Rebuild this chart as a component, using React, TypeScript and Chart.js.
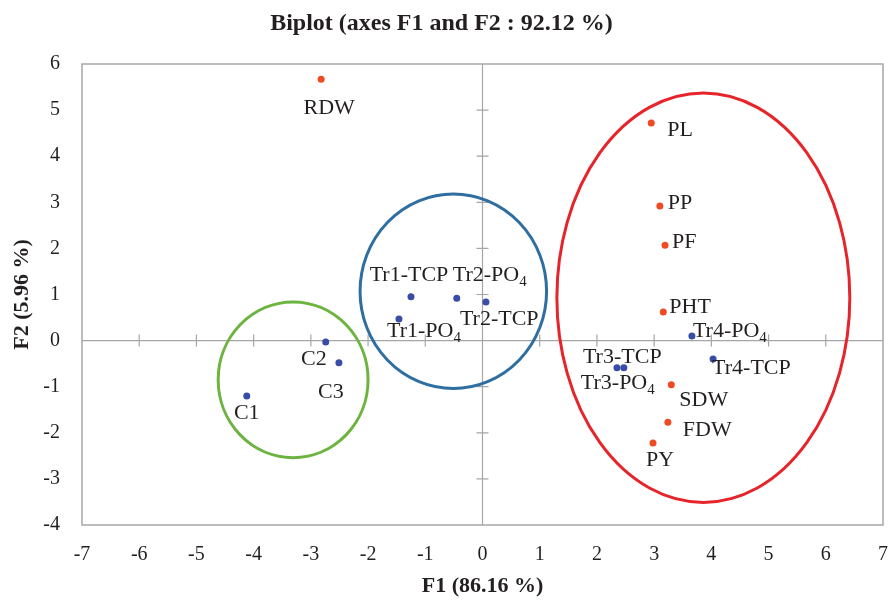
import React, { useEffect, useRef } from "react";
import { Chart, registerables } from "chart.js";

Chart.register(...registerables);

const TITLE = "Biplot (axes F1 and F2 : 92.12 %)";
const X_TITLE = "F1 (86.16 %)";
const Y_TITLE = "F2 (5.96 %)";

const X_TICKS = [-7, -6, -5, -4, -3, -2, -1, 0, 1, 2, 3, 4, 5, 6, 7];
const Y_TICKS = [-4, -3, -2, -1, 0, 1, 2, 3, 4, 5, 6];

// Observations (blue)
const OBS_LABELS = ["C1", "C2", "C3", "Tr1-TCP", "Tr1-PO4", "Tr2-PO4", "Tr2-TCP", "Tr3-TCP", "Tr3-PO4", "Tr4-PO4", "Tr4-TCP"];
const OBS_F1 = [-4.12, -2.74, -2.51, -1.25, -1.46, -0.45, 0.06, 2.35, 2.47, 3.66, 4.03];
const OBS_F2 = [-1.2, -0.03, -0.48, 0.95, 0.47, 0.92, 0.84, -0.59, -0.59, 0.1, -0.4];

// Variables (red)
const VAR_LABELS = ["RDW", "PL", "PP", "PF", "PHT", "SDW", "FDW", "PY"];
const VAR_F1 = [-2.82, 2.95, 3.1, 3.19, 3.16, 3.3, 3.24, 2.98];
const VAR_F2 = [5.67, 4.72, 2.92, 2.07, 0.62, -0.96, -1.77, -2.22];

// Group ellipses (data units)
const GROUP_CX = [-3.31, -0.51, 3.86];
const GROUP_CY = [-0.85, 1.07, 0.93];
const GROUP_RX = [1.31, 1.63, 2.56];
const GROUP_RY = [1.69, 2.11, 4.44];

// ---- styles ----
const FONT = '"Liberation Serif", "Times New Roman", serif';
const TEXT_COLOR = "#231F20";
const OBS_COLOR = "#3A4DA6";
const VAR_COLOR = "#F04A25";
const GROUP_COLORS = ["#6DB33F", "#2F6EA0", "#E6252B"];
const FRAME_COLOR = "#A6A6A6";

type Place = [CanvasTextAlign, number, number];
const OBS_PLACE: Place[] = [
  ["center", 0, 17],
  ["right", 1, 17],
  ["center", -8, 29],
  ["center", -2, -22],
  ["left", -12, 12],
  ["left", -4, -23],
  ["left", -26, 17],
  ["left", -34, -11],
  ["left", -43, 15],
  ["left", 1, -5],
  ["left", -1, 9],
];
const VAR_PLACE: Place[] = [
  ["center", 8, 29],
  ["left", 16, 7],
  ["left", 8, -3],
  ["left", 7, -3],
  ["left", 6, -5],
  ["left", 8, 15],
  ["left", 15, 8],
  ["center", 7, 17],
];

function drawLabel(ctx: CanvasRenderingContext2D, text: string, x: number, y: number, align: CanvasTextAlign) {
  const mainFont = `22px ${FONT}`;
  const subFont = `15px ${FONT}`;
  const m = /^(.*PO)(\d)$/.exec(text);
  const main = m ? m[1] : text;
  const sub = m ? m[2] : "";
  ctx.font = mainFont;
  const wMain = ctx.measureText(main).width;
  ctx.font = subFont;
  const wSub = sub ? ctx.measureText(sub).width : 0;
  const total = wMain + wSub;
  let left = x;
  if (align === "center") left = x - total / 2;
  else if (align === "right") left = x - total;
  ctx.textAlign = "left";
  ctx.textBaseline = "middle";
  ctx.fillStyle = TEXT_COLOR;
  ctx.font = mainFont;
  ctx.fillText(main, left, y);
  if (sub) {
    ctx.font = subFont;
    ctx.fillText(sub, left + wMain, y + 7);
  }
}

const biplotPlugin = {
  id: "biplotDecor",
  beforeDatasetsDraw(chart: any) {
    const { ctx, chartArea, scales } = chart;
    const xs = scales.x;
    const ys = scales.y;
    ctx.save();
    // frame
    ctx.strokeStyle = FRAME_COLOR;
    ctx.lineWidth = 1.5;
    ctx.strokeRect(chartArea.left, chartArea.top, chartArea.right - chartArea.left, chartArea.bottom - chartArea.top);
    // zero axes
    const x0 = xs.getPixelForValue(0);
    const y0 = ys.getPixelForValue(0);
    ctx.lineWidth = 1.2;
    ctx.beginPath();
    ctx.moveTo(chartArea.left, y0);
    ctx.lineTo(chartArea.right, y0);
    ctx.moveTo(x0, chartArea.top);
    ctx.lineTo(x0, chartArea.bottom);
    X_TICKS.forEach((v) => {
      if (v === X_TICKS[0] || v === X_TICKS[X_TICKS.length - 1]) return;
      const px = xs.getPixelForValue(v);
      ctx.moveTo(px, y0 - 6);
      ctx.lineTo(px, y0 + 6);
    });
    Y_TICKS.forEach((v) => {
      if (v === Y_TICKS[0] || v === Y_TICKS[Y_TICKS.length - 1]) return;
      const py = ys.getPixelForValue(v);
      ctx.moveTo(x0 - 6, py);
      ctx.lineTo(x0 + 6, py);
    });
    ctx.stroke();
    // ellipses
    ctx.lineWidth = 3;
    GROUP_CX.forEach((cx, i) => {
      const pcx = xs.getPixelForValue(cx);
      const pcy = ys.getPixelForValue(GROUP_CY[i]);
      const prx = Math.abs(xs.getPixelForValue(cx + GROUP_RX[i]) - pcx);
      const pry = Math.abs(ys.getPixelForValue(GROUP_CY[i] + GROUP_RY[i]) - pcy);
      ctx.strokeStyle = GROUP_COLORS[i];
      ctx.beginPath();
      ctx.ellipse(pcx, pcy, prx, pry, 0, 0, Math.PI * 2);
      ctx.stroke();
    });
    ctx.restore();
  },
  afterDatasetsDraw(chart: any) {
    const { ctx } = chart;
    ctx.save();
    const sets: [string[], Place[]][] = [
      [OBS_LABELS, OBS_PLACE],
      [VAR_LABELS, VAR_PLACE],
    ];
    sets.forEach(([labels, places], di) => {
      const meta = chart.getDatasetMeta(di);
      meta.data.forEach((el: any, i: number) => {
        const [align, dx, dy] = places[i];
        drawLabel(ctx, labels[i], el.x + dx, el.y + dy, align);
      });
    });
    ctx.restore();
  },
};

export default function App() {
  const canvasRef = useRef<HTMLCanvasElement | null>(null);

  useEffect(() => {
    if (!canvasRef.current) return;
    const chart = new Chart(canvasRef.current, {
      type: "scatter",
      data: {
        datasets: [
          {
            label: "Observations",
            data: OBS_F1.map((x, i) => ({ x, y: OBS_F2[i] })),
            backgroundColor: OBS_COLOR,
            borderColor: OBS_COLOR,
            pointRadius: 3.5,
            borderWidth: 0,
          },
          {
            label: "Variables",
            data: VAR_F1.map((x, i) => ({ x, y: VAR_F2[i] })),
            backgroundColor: VAR_COLOR,
            borderColor: VAR_COLOR,
            pointRadius: 3.5,
            borderWidth: 0,
          },
        ],
      },
      options: {
        animation: false,
        responsive: false,
        maintainAspectRatio: false,
        layout: { padding: { left: 0, right: 7, top: 0, bottom: 0 } },
        plugins: {
          legend: { display: false },
          tooltip: { enabled: false },
          title: {
            display: true,
            text: TITLE,
            color: TEXT_COLOR,
            font: { family: FONT, size: 24, weight: "bold", lineHeight: 1.2 },
            padding: { top: 9, bottom: 26.2 },
          },
        },
        scales: {
          x: {
            type: "linear",
            min: -7,
            max: 7,
            afterBuildTicks: (s: any) => {
              s.ticks = X_TICKS.map((v) => ({ value: v }));
            },
            afterFit: (s: any) => {
              s.height = 75;
              s.paddingLeft = 0;
              s.paddingRight = 0;
            },
            grid: { display: false, drawTicks: false },
            border: { display: false },
            ticks: {
              color: TEXT_COLOR,
              font: { family: FONT, size: 20, lineHeight: 1.2 },
              padding: 18,
              maxRotation: 0,
              autoSkip: false,
            },
            title: {
              display: true,
              text: X_TITLE,
              color: TEXT_COLOR,
              font: { family: FONT, size: 22, weight: "bold", lineHeight: 1.2 },
              padding: { top: 0, bottom: 0 },
            },
          },
          y: {
            type: "linear",
            min: -4,
            max: 6,
            afterBuildTicks: (s: any) => {
              s.ticks = Y_TICKS.map((v) => ({ value: v }));
            },
            afterFit: (s: any) => {
              s.width = 82;
              s.paddingTop = 0;
              s.paddingBottom = 0;
            },
            grid: { display: false, drawTicks: false },
            border: { display: false },
            ticks: {
              color: TEXT_COLOR,
              font: { family: FONT, size: 20, lineHeight: 1.2 },
              padding: 22,
              autoSkip: false,
            },
            title: {
              display: true,
              text: Y_TITLE,
              color: TEXT_COLOR,
              font: { family: FONT, size: 22, weight: "bold", lineHeight: 1.2 },
              padding: { top: 9, bottom: 0 },
            },
          },
        },
      },
      plugins: [biplotPlugin],
    } as any);
    return () => chart.destroy();
  }, []);

  return (
    <div style={{ position: "fixed", left: 0, top: 0, width: 890, height: 600, background: "#fff" }}>
      <canvas ref={canvasRef} width={890} height={600} style={{ width: 890, height: 600, display: "block" }} />
    </div>
  );
}
